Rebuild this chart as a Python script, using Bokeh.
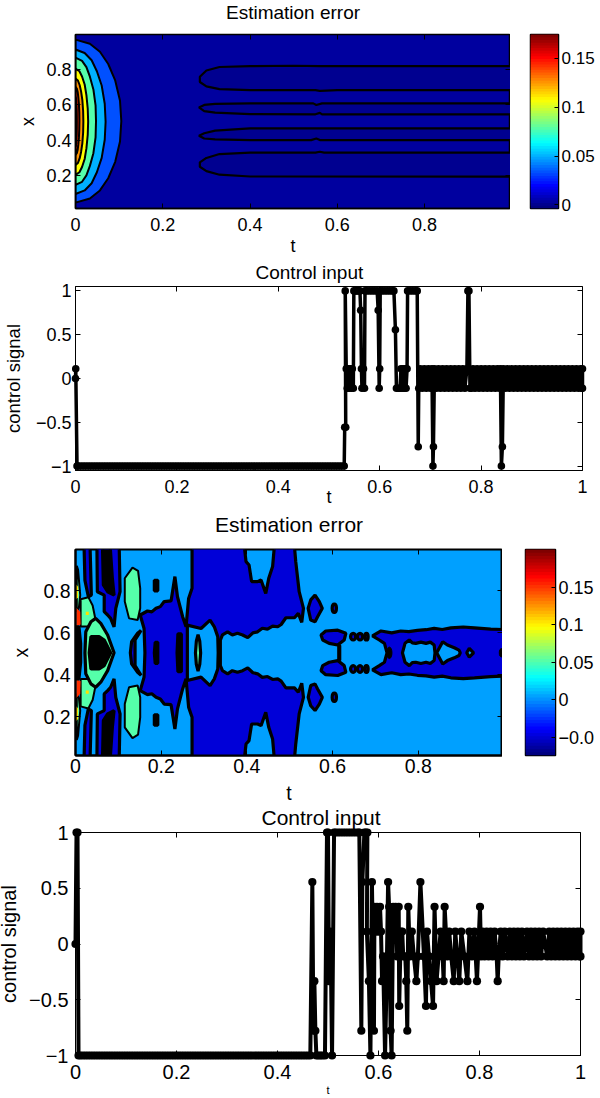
from bokeh.plotting import figure
from bokeh.layouts import column, row
from bokeh.models import LinearAxis, FixedTicker, Range1d, Title
from bokeh.embed import file_html
from bokeh.resources import INLINE
import numpy as np

FONT = "Liberation Sans"

# ---------- panel 1: contour outlines (t, x) ----------
arc_t = [
    [0, .033, .056, .075, .091, .102, .105, .102, .091, .075, .056, .033, 0],
    [0, .021, .037, .049, .060, .067, .069, .067, .060, .049, .037, .021, 0],
    [0, .015, .025, .033, .041, .046, .047, .046, .041, .033, .025, .015, 0],
    [0, .009, .015, .021, .025, .028, .029, .028, .025, .021, .015, .009, 0],
    [0, .0056, .0095, .0128, .0157, .0175, .018, .0175, .0157, .0128, .0095, .0056, 0],
    [0, .003, .005, .0064, .0078, .0087, .009, .0087, .0078, .0064, .005, .003, 0],
    [0, .001, .0016, .002, .0026, .0029, .003, .0029, .0026, .002, .0016, .001, 0],
]
arc_x = [
    [.97, .947, .901, .832, .739, .624, .5085, .393, .278, .185, .116, .070, .047],
    [.914, .894, .853, .791, .710, .607, .505, .403, .300, .219, .157, .116, .096],
    [.868, .850, .814, .760, .688, .598, .5075, .417, .327, .255, .201, .165, .147],
    [.806, .791, .761, .716, .656, .580, .505, .430, .354, .294, .249, .219, .204],
    [.75, .738, .713, .677, .628, .566, .505, .444, .383, .334, .297, .272, .26],
    [.703, .693, .674, .645, .6065, .558, .51, .462, .4135, .375, .346, .327, .317],
    [.646, .639, .625, .604, .5755, .54, .505, .47, .4345, .406, .385, .371, .364],
]
arc_colors = ["#0050ff", "#00b0ff", "#55ffaa", "#ffff00", "#ff9500", "#ff2500", "#a00000"]

lobe_t = [
    [1.01, .56, .50, .40, .33, .30, .285, .285, .30, .33, .40, .55, .56, .60, 1.01],
    [1.01, .565, .552, .545, .40, .32, .295, .283, .295, .32, .40, .55, .56, .565, 1.01],
    [1.01, .57, .40, .32, .295, .283, .295, .32, .40, .54, .552, .56, 1.01],
    [1.01, .57, .56, .55, .40, .33, .30, .285, .285, .30, .33, .40, 1.01],
]
lobe_x = [
    [.82, .82, .822, .82, .815, .795, .76, .73, .705, .69, .684, .684, .68, .684, .684],
    [.609, .609, .600, .609, .609, .606, .60, .586, .565, .557, .548, .547, .555, .547, .547],
    [.467, .467, .467, .455, .44, .426, .41, .405, .401, .401, .41, .401, .401],
    [.33, .33, .335, .33, .33, .322, .30, .275, .25, .225, .205, .195, .194],
]

# ---------- panel 3: upper-half contour outlines (t, x); the field is symmetric ----------
MID = 1.01
main_t = [.162, .160, .151, .168, .178, .188, .198, .207, .223, .232, .238, .250, .258, .264, .272, .272, .394, .398, .405, .411, .425, .433, .444, .451, .460, .464, .511, .514, .522, .532, .528, .520, .511, .491, .480, .472, .460, .448, .436, .425, .414, .402, .390, .378, .366, .355, .343, .338, .338]
main_x = [.505, .621, .685, .704, .700, .717, .725, .749, .752, .868, .772, .677, .629, .764, .812, 1.01, 1.01, .939, .923, .844, .844, .852, .788, .860, .916, 1.01, 1.01, .939, .796, .717, .650, .693, .672, .672, .640, .629, .632, .618, .622, .605, .600, .577, .590, .598, .590, .605, .590, .566, .505]
island_t = [.261, .261, .293, .314, .324, .332, .333]
island_x = [.505, .637, .621, .661, .629, .582, .505]
ell_t = [.280, .282, .286, .290, .292]
ell_x = [.505, .56, .592, .56, .505]
cres_t = [.128, .131, .145, .153, .139, .139]
cres_x = [.505, .558, .598, .612, .566, .505]
lens_t = [.022, .024, .036, .047, .059, .075, .090]
lens_x = [.505, .605, .653, .669, .645, .590, .505]
blob_t = [.032, .036, .055, .067, .082]
blob_x = [.505, .582, .582, .566, .505]
edge_t = [0, 0, .008, .012, .012]
edge_x = [.505, .629, .629, .55, .505]
slit1_t = [.184, .186, .192, .192]
slit1_x = [.505, .555, .555, .505]
slit2_t = [.237, .239, .247, .247]
slit2_x = [.505, .595, .595, .505]
band_t = [.727, .721, .709, .693, .713, .738, .759, .778, .798, .818, .837, .856, .876, .905, .931, .969, 1.01]
band_x = [.505, .55, .566, .586, .609, .600, .609, .606, .612, .615, .621, .616, .624, .628, .624, .618, .615]
hole1_t = [.763, .769, .779, .786, .794, .806, .818, .828, .837, .839]
hole1_x = [.505, .550, .566, .552, .550, .556, .550, .556, .542, .505]
hole2_t = [.843, .857, .868, .884, .895, .898]
hole2_x = [.505, .558, .542, .529, .518, .505]
hole3_t = [.913, .919, .929]
hole3_x = [.505, .526, .505]
conn_t = [.613, .613, .618, .618]
conn_x = [.505, .54, .54, .505]
dark_pairs_t = [
    [.020, .034, .037, .030, .022],
    [.050, .102, .104, .094, .090, .082, .075, .067, .067, .051],
    [.573, .584, .612, .631, .627, .612, .592, .577],
    [.559, .569, .576, .565, .559, .549, .543, .549],
]
dark_pairs_x = [
    [1.01, 1.01, .780, .772, .85],
    [1.01, 1.01, .796, .717, .629, .669, .685, .701, .780, .796],
    [.590, .609, .613, .598, .566, .542, .550, .566],
    [.780, .749, .717, .677, .653, .661, .717, .757],
]
black_pair_t = [[.063, .081, .086, .090, .075, .065], [.184, .192, .192, .184]]
black_pair_x = [[1.01, 1.01, .860, .780, .796, .828], [.85, .85, .80, .80]]
teal_pair_t = [
    [.133, .146, .151, .151, .145, .125, .115, .115],
    [.003, .006, .011, .008, .003],
    [.012, .030, .040, .047, .030, .012],
]
teal_pair_x = [
    [.911, .895, .812, .717, .661, .669, .749, .860],
    [.92, .90, .78, .72, .70],
    [.76, .77, .73, .66, .63, .63],
]
hot_pair_t = [[.002, .006, .006, .002], [.002, .011, .012, .002], [.024, .031, .031, .024]]
hot_pair_x = [[.83, .82, .77, .76], [.72, .70, .64, .63], [.70, .70, .685, .685]]
hot_pair_c = ["#ffe000", "#ff3000", "#ffe000"]
dot_t = [.648, .664, .679, .604]
dot_x = [.582, .582, .582, .717]
dot_w = [.012, .012, .008, .010]
dot_h = [.032, .032, .032, .040]
knot_t = [.7325, .995]
knot_x = [.505, .505]
knot_w = [.012, .012]
knot_h = [.055, .04]

# ---------- panel 2: control signal ----------
run2_t = [.005, .010, .015, .020, .025, .030, .035, .040, .045, .050, .055, .060, .065, .070, .075, .080, .085, .090, .095, .100,
          .105, .110, .115, .120, .125, .130, .135, .140, .145, .150, .155, .160, .165, .170, .175, .180, .185, .190, .195, .200,
          .205, .210, .215, .220, .225, .230, .235, .240, .245, .250, .255, .260, .265, .270, .275, .280, .285, .290, .295, .300,
          .305, .310, .315, .320, .325, .330, .335, .340, .345, .350, .355, .360, .365, .370, .375, .380, .385, .390, .395, .400,
          .405, .410, .415, .420, .425, .430, .435, .440, .445, .450, .455, .460, .465, .470, .475, .480, .485, .490, .495, .500,
          .505, .510, .515, .520, .525, .530]
head2_t = [0, .0005, .003]
head2_u = [0, .111, -1]
tail2_t = [.531, .533, .532, .534, .536, .538, .540, .542, .544, .546, .548, .549, .552, .555, .558, .561, .5625, .564, .565, .568, .570,
           .571, .575, .580, .585, .590, .595, .597, .599, .600, .601, .605, .610, .615, .620, .625, .628, .631, .633, .637, .640,
           .642, .644, .646, .648, .650, .652, .654, .655, .660, .665, .670, .674, .676, .677,
           .680, .684, .688, .692, .696, .700, .703, .705, .706, .708, .712, .716, .720, .724, .728, .732, .736, .740, .744, .748,
           .752, .756, .760, .764, .768, .772, .774, .776, .778, .781, .784, .788, .792, .796, .800, .804, .808, .812, .816, .820,
           .824, .828, .832, .836, .838, .840, .842, .844, .848, .852, .856, .860, .864, .868, .872, .876, .880, .884, .888, .892,
           .896, .900, .904, .908, .912, .916, .920, .924, .928, .932, .936, .940, .944, .948, .952, .956, .960, .964, .968, .972,
           .976, .980, .984, .988, .992, .996, .9985, 1.0, 1.0]
tail2_u = [-.556, -.556, 1, .111, -.111, .111, -.111, .111, -.111, .111, -.111, 1, 1, 1, 1, 1, .778, .111, -.111, .111, -.111,
           1, 1, 1, 1, 1, 1, .778, -.111, .111, 1, 1, 1, 1, 1, 1, 1, .556, -.111, -.111, -.111,
           .111, -.111, .111, -.111, .111, -.111, .111, 1, 1, 1, 1, 1, -.778, -.111,
           .111, -.111, .111, -.111, .111, -.111, .111, -1, -.778, .111, -.111, .111, -.111, .111, -.111, .111, -.111, .111, -.111, .111,
           -.111, .111, -.111, .111, -.111, .111, 1, 1, -.111, -.111, .111, -.111, .111, -.111, .111, -.111, .111, -.111, .111, -.111,
           .111, -.111, .111, -.111, .111, -1, -.778, .111, -.111, .111, -.111, .111, -.111, .111, -.111, .111, -.111, .111, -.111, .111,
           -.111, .111, -.111, .111, -.111, .111, -.111, .111, -.111, .111, -.111, .111, -.111, .111, -.111, .111, -.111, .111, -.111, .111,
           -.111, .111, -.111, .111, -.111, .111, -.111, .111, -.111]

# ---------- panel 4: control signal ----------
head4_t = [0, .002, .004]
head4_u = [0, 1, 1]
run4_t = [.006, .010, .015, .020, .025, .030, .035, .040, .045, .050, .055, .060, .065, .070, .075, .080, .085, .090, .095, .100,
          .105, .110, .115, .120, .125, .130, .135, .140, .145, .150, .155, .160, .165, .170, .175, .180, .185, .190, .195, .200,
          .205, .210, .215, .220, .225, .230, .235, .240, .245, .250, .255, .260, .265, .270, .275, .280, .285, .290, .295, .300,
          .305, .310, .315, .320, .325, .330, .335, .340, .345, .350, .355, .360, .365, .370, .375, .380, .385, .390, .395, .400,
          .405, .410, .415, .420, .425, .430, .435, .440, .445, .450, .455, .460, .465]
tail4_t = [.469, .471, .473, .475, .477, .481, .485, .489, .494, .498, .500, .502, .505, .508, .512, .515, .520, .525, .530, .535, .540, .545, .550, .555, .560, .562,
           .566, .568, .572, .575, .578, .577, .581, .584, .587, .591, .592, .596, .597, .600, .603, .605, .607, .609, .613, .616, .619, .621, .624, .626,
           .629, .632, .634, .637, .640, .641, .644, .647, .649, .653, .655, .657, .659, .662, .666, .670, .675, .678, .683, .690, .694, .696, .700, .704,
           .708, .711, .715, .719, .723, .727, .729, .731, .736, .740, .744, .749, .752, .756, .760, .764, .770, .776, .780, .785, .790, .795, .801, .803,
           .806, .810, .814, .818, .822, .826, .830, .834, .836, .838, .842, .846, .850, .856, .860, .864, .868, .872, .876, .880, .884, .888, .894, .898,
           .902, .906, .910, .914, .918, .922, .926, .934, .938, .942, .946, .950, .954, .958, .962, .966, .970, .974, .978, .982, .986, .990, .994, .998, 1.0, 1.0]
tail4_u = [.556, -.778, -.333, -.778, -1, -1, -1, -1, -1, 1, 1, -.333, .111, -1, 1, 1, 1, 1, 1, 1, 1, 1, 1, 1, 1, 1,
           -.778, .556, 1, 1, 1, .111, -.333, -1, .556, -.778, .333, .111, .333, .111, .333, .111, -.333, -.111, -1, -.333, .556, .333, -.778, -1,
           .333, .111, .333, -.111, .333, -.556, .111, .111, -.111, -.111, -.333, -.778, .333, -.111, .111, -.111, -.333, -.111, .556, -.111, -.556, .111, -.111, -.333,
           -.556, .333, -.333, -.111, .111, -.111, -.333, .333, -.111, .111, -.111, -.333, .111, -.111, -.333, .111, -.111, -.333, .111, -.111, .111, -.333, .333, -.111,
           .111, -.111, .111, -.111, .111, -.111, .111, -.111, -.333, -.111, .111, -.111, .111, -.111, .111, -.111, .111, -.111, .111, -.111, .111, -.111, .111, -.111,
           .111, -.111, .111, -.111, .111, -.111, .111, -.111, .111, -.111, .111, -.111, .111, -.111, .111, -.111, .111, -.111, .111, -.111, .111, -.111, .111, -.111, .111, -.111]

# ---------- ticks ----------
field_ticks_t = [0, .2, .4, .6, .8]
field_ticks_x = [.2, .4, .6, .8]
signal_ticks_t = [0, .2, .4, .6, .8, 1]
signal_ticks_u = [-1, -.5, 0, .5, 1]
cb1_ticks = [0, .05, .1, .15]
cb3_ticks = [-.05, 0, .05, .1, .15]
cb1_labels = {0: "0", .05: "0.05", .1: "0.1", .15: "0.15"}
cb3_labels = {-.05: "\u22120.0", 0: "0", .05: "0.05", .1: "0.1", .15: "0.15"}
t_labels = {0: "0", .2: "0.2", .4: "0.4", .6: "0.6", .8: "0.8", 1: "1"}
x_labels = {.2: "0.2", .4: "0.4", .6: "0.6", .8: "0.8"}
u_labels = {-1: "\u22121", -.5: "\u22120.5", 0: "0", .5: "0.5", 1: "1"}


def jet(n=64):
    out = []
    for v in np.linspace(0, 1, n):
        r = np.clip(min(4 * v - 1.5, -4 * v + 4.5), 0, 1)
        g = np.clip(min(4 * v - .5, -4 * v + 3.5), 0, 1)
        b = np.clip(min(4 * v + .5, -4 * v + 2.5), 0, 1)
        out.append("#%02x%02x%02x" % (int(r * 255), int(g * 255), int(b * 255)))
    return out


def mirror(a, b):
    return list(a) + list(a[::-1]), list(b) + [MID - v for v in b[::-1]]


def twin(ts, xs):
    out_t, out_x = [], []
    for a, b in zip(ts, xs):
        out_t += [a, a]
        out_x += [b, [MID - v for v in b]]
    return out_t, out_x


def style(p, xt, yt, xl, yl, tick_size, width, xlabel, xsize, xstand, ylabel, ysize, ystand, xtick_stand, ytick_stand):
    for ax, ticks, labels, text, size, stand, ls in ((p.below[0], xt, xl, xlabel, xsize, xstand, xtick_stand),
                                                     (p.left[0], yt, yl, ylabel, ysize, ystand, ytick_stand)):
        ax.ticker = FixedTicker(ticks=ticks)
        ax.major_label_overrides = labels
        ax.major_label_text_font = FONT
        ax.major_label_text_font_size = tick_size
        ax.major_label_text_color = "black"
        ax.major_label_standoff = ls
        ax.axis_label = text
        ax.axis_label_text_font = FONT
        ax.axis_label_text_font_size = size
        ax.axis_label_standoff = stand
        ax.axis_label_text_font_style = "normal"
        ax.axis_label_text_color = "black"
        ax.major_tick_in = 5
        ax.major_tick_out = 0
        ax.minor_tick_line_color = None
        ax.axis_line_width = width
        ax.axis_line_color = "black"
        ax.major_tick_line_color = "black"
    for ticks, side in ((xt, "above"), (yt, "right")):
        m = LinearAxis(ticker=FixedTicker(ticks=ticks),
                       major_label_overrides={v: "" for v in ticks},
                       major_label_text_font_size="0px", major_label_standoff=0,
                       major_tick_in=5, major_tick_out=0, minor_tick_line_color=None,
                       axis_line_color=None)
        p.add_layout(m, side)
    p.grid.visible = False
    p.outline_line_color = "black"
    p.outline_line_width = width
    p.border_fill_color = None
    p.align = "start"


def make_title(text, size, standoff, left=None):
    return Title(text=text, align="center" if left is None else "left", offset=0 if left is None else left,
                 text_font=FONT, text_font_size=size, vertical_align="top",
                 text_font_style="normal", text_color="black", standoff=standoff)


def colorbar(low, high, ticks, labels, size, left, wide, right, top, tall, bottom):
    p = figure(output_backend="svg", toolbar_location=None, frame_width=wide, frame_height=tall,
               x_range=Range1d(0, 1), y_range=Range1d(low, high), x_axis_location=None,
               y_axis_location="right", min_border_left=left, min_border_right=right,
               min_border_top=top, min_border_bottom=bottom, align="start")
    edges = np.linspace(low, high, 65)
    p.quad(left=0, right=1, bottom=edges[:-1], top=list(edges[2:]) + [edges[-1]], fill_color=jet(), line_color=None)
    ax = p.yaxis[0]
    ax.ticker = FixedTicker(ticks=ticks)
    ax.major_label_overrides = labels
    ax.major_label_text_font = FONT
    ax.major_label_text_font_size = size
    ax.major_label_text_color = "black"
    ax.major_tick_in = 4
    ax.major_tick_out = 0
    ax.minor_tick_line_color = None
    ax.axis_line_color = "black"
    ax.major_label_standoff = 3
    ax.major_tick_line_color = "black"
    p.grid.visible = False
    p.outline_line_color = "black"
    p.outline_line_width = 1.5
    p.border_fill_color = None
    return p


def signal(t, u, top, tall, bottom, wide, ylim, xsize, title, tsize, tstand, tleft, tick, ylab, xstand, ystand, tick_stand, ytick_stand, lw, ms):
    left = 80
    p = figure(output_backend="svg", toolbar_location=None, frame_width=wide, frame_height=tall,
               x_range=Range1d(0, 1), y_range=Range1d(*ylim), min_border_left=left,
               min_border_right=600 - left - wide, min_border_top=top, min_border_bottom=bottom,
               width=600)
    p.line(t, u, line_color="black", line_width=lw, line_join="round", level="overlay")
    p.scatter(t, u, size=ms, marker="circle", fill_color="black", line_color="black", line_width=0, level="overlay")
    style(p, signal_ticks_t, signal_ticks_u, t_labels, u_labels, tick, 1, "t", xsize, xstand, "control signal", ylab, ystand, tick_stand, ytick_stand)
    p.add_layout(make_title(title, tsize, tstand, tleft), "above")
    return p


# ---------- figure 1 ----------
f1 = figure(output_backend="svg", toolbar_location=None, frame_width=435, frame_height=174,
            x_range=Range1d(0, .997), y_range=Range1d(.0137, .999), min_border_left=75,
            min_border_right=0, min_border_top=44, min_border_bottom=43,
            background_fill_color="#00009f")
f1.patches(lobe_t, lobe_x, fill_color="#000090", line_color="black", line_width=2.2)
f1.patches(arc_t, arc_x, fill_color=arc_colors, line_color="black", line_width=2)
style(f1, field_ticks_t, field_ticks_x, t_labels, x_labels, "18px", 1.5, "t", "18px", 2, "x", "18px", 5, 9, 4)
f1.add_layout(make_title("Estimation error", "19px", 20), "above")
c1 = colorbar(-.0036, .1745, cb1_ticks, cb1_labels, "17px", 20, 28, 42, 44, 174, 43)

# ---------- figure 2 ----------
u2_t = head2_t + run2_t + tail2_t
u2_u = head2_u + [-1] * len(run2_t) + tail2_u
f2 = signal(u2_t, u2_u, 28, 184, 43, 507, (-1.05, 1.05), "18px", "Control input", "19px", 4, 180, "18px", "18.5px", -9, 9, 9, 4, 3.5, 7.6)
f2.margin = (0, 0, 0, -5)

# ---------- figure 3 ----------
f3 = figure(output_backend="svg", toolbar_location=None, frame_width=427, frame_height=206,
            x_range=Range1d(0, .9965), y_range=Range1d(.016, .997), min_border_left=75,
            min_border_right=0, min_border_top=48, min_border_bottom=45,
            background_fill_color="#00a0ff")
LW = 3.2
DARK = "#0000d8"
TEAL = "#55ffaa"
ts, xs = mirror(main_t, main_x)
a, b = twin(dark_pairs_t, dark_pairs_x)
f3.patches([ts] + a, [xs] + b, fill_color=DARK, line_color="black", line_width=LW)
a, b = twin(black_pair_t, black_pair_x)
f3.patches(a, b, fill_color="black", line_color="black", line_width=LW)
a, b = twin(teal_pair_t, teal_pair_x)
f3.patches(a, b, fill_color=TEAL, line_color="black", line_width=2)
a, b = twin(hot_pair_t, hot_pair_x)
f3.patches(a, b, fill_color=[c for c in hot_pair_c for _ in (0, 1)], line_color=None)
for tt, xx, col in ((island_t, island_x, "#00a0ff"), (ell_t, ell_x, TEAL), (cres_t, cres_x, DARK), (lens_t, lens_x, TEAL),
                    (blob_t, blob_x, "black"), (edge_t, edge_x, "black"), (slit1_t, slit1_x, "black"), (slit2_t, slit2_x, "black")):
    u, v = mirror(tt, xx)
    f3.patch(u, v, fill_color=col, line_color="black", line_width=LW)
u, v = mirror(band_t, band_x)
f3.patch(u, v, fill_color=DARK, line_color="black", line_width=LW)
for tt, xx in ((hole1_t, hole1_x), (hole2_t, hole2_x), (hole3_t, hole3_x)):
    u, v = mirror(tt, xx)
    f3.patch(u, v, fill_color="#00a0ff", line_color="black", line_width=LW)
u, v = mirror(conn_t, conn_x)
f3.patch(u, v, fill_color="black", line_color="black", line_width=2)
f3.ellipse(dot_t + dot_t, dot_x + [MID - v for v in dot_x], dot_w + dot_w, dot_h + dot_h,
           fill_color=DARK, line_color="black", line_width=LW)
f3.ellipse(knot_t, knot_x, knot_w, knot_h, fill_color="black", line_color="black", line_width=1)
style(f3, field_ticks_t, field_ticks_x, t_labels, x_labels, "19.5px", 2, "t", "19.5px", 6, "x", "19.5px", 8, 3, 5)
f3.add_layout(make_title("Estimation error", "21px", 23), "above")
c3 = colorbar(-.074, .2, cb3_ticks, cb3_labels, "18px", 23, 30, 45, 48, 206, 45)

# ---------- figure 4 ----------
u4_t = head4_t + run4_t + tail4_t
u4_u = head4_u + [-1] * len(run4_t) + tail4_u
f4 = signal(u4_t, u4_u, 29, 223, 44, 505, (-1, 1), "11px", "Control input", "21px", 3, 186, "20px", "20px", 2, 6, 9, 7, 4, 8.2)
f4.margin = (-3, 0, 0, -5)

root = column(row(f1, c1, align="start"), f2, row(f3, c3, align="start", margin=(-12, 0, 0, 0)), f4, margin=(-10, 0, -6, 0))
open("out.html", "w").write(file_html(root, INLINE))
